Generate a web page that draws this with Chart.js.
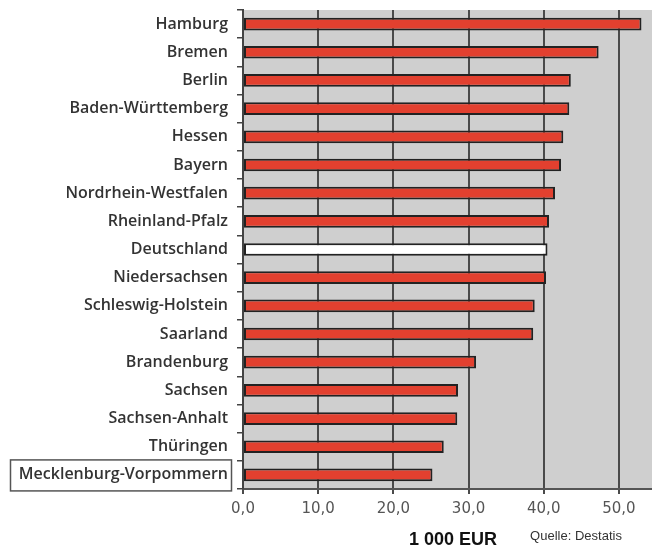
<!DOCTYPE html>
<html><head><meta charset="utf-8">
<script src="https://cdn.jsdelivr.net/npm/chart.js@4/dist/chart.umd.min.js"></script>
<style>html,body{margin:0;padding:0;background:#fff}#wrap{width:652px;height:549px;position:relative}</style>
</head><body><div id="wrap"><canvas id="c" width="652" height="549"></canvas></div>
<script>
const categories = ["Hamburg","Bremen","Berlin","Baden-Württemberg","Hessen","Bayern","Nordrhein-Westfalen","Rheinland-Pfalz","Deutschland","Niedersachsen","Schleswig-Holstein","Saarland","Brandenburg","Sachsen","Sachsen-Anhalt","Thüringen","Mecklenburg-Vorpommern"];
const values = [53.0,47.3,43.6,43.4,42.6,42.3,41.5,40.7,40.5,40.3,38.8,38.6,31.0,28.6,28.5,26.7,25.2];
const xTicks = [0,10,20,30,40,50];
const highlight = "Deutschland";
const boxed = "Mecklenburg-Vorpommern";
const axisTitle = "1 000 EUR";
const source = "Quelle: Destatis";

const bgPlugin = {
  id:'bg',
  beforeDraw(chart){
    const {ctx, chartArea:a} = chart;
    ctx.save(); ctx.fillStyle='#cfcfcf';
    ctx.fillRect(a.left,a.top,a.right-a.left,a.bottom-a.top);
    ctx.restore();
  },
  afterDraw(chart){
    const {ctx} = chart;
    const y = chart.scales.y;
    const i = categories.indexOf(boxed);
    const cy = y.getPixelForValue(i);
    ctx.save();
    ctx.strokeStyle='#555'; ctx.lineWidth=1.5;
    ctx.strokeRect(10.5, cy-15, 221, 31);
    ctx.fillStyle='#111';
    ctx.font='bold 18px "Liberation Sans", Arial, sans-serif';
    ctx.textAlign='center'; ctx.textBaseline='middle';
    ctx.fillText(axisTitle, 453, 540);
    ctx.font='13px "Liberation Sans", Arial, sans-serif';
    ctx.fillStyle='#333';
    ctx.fillText(source, 576, 536);
    ctx.restore();
  }
};

new Chart(document.getElementById('c'), {
  type:'bar',
  data:{labels:categories, datasets:[{
    data:values,
    backgroundColor: categories.map(c=>c===highlight?'#ffffff':'#e2402f'),
    borderColor:'#222', borderWidth:2, borderSkipped:false,
    barPercentage:0.45, categoryPercentage:1
  }]},
  options:{
    indexAxis:'y', responsive:false, animation:false,
    layout:{padding:{top:10,right:0,left:0,bottom:0}},
    plugins:{legend:{display:false}, tooltip:{enabled:false}},
    scales:{
      x:{
        min:0, max:54.4,
        afterBuildTicks(s){ s.ticks = xTicks.map(v=>({value:v})); },
        afterFit(s){ s.height = 60; s.paddingLeft = 0; s.paddingRight = 0; },
        grid:{color:'#4a4a4a', lineWidth:2, tickLength:5, drawTicks:true},
        border:{color:'#555', width:2},
        ticks:{color:'#555', padding:6, font:{family:'"DejaVu Sans", Verdana, sans-serif', size:15},
          callback:v=>v.toFixed(1).replace('.',',')}
      },
      y:{
        afterFit(s){ s.width = 243; s.paddingTop = 0; s.paddingBottom = 0; },
        grid:{offset:true, drawOnChartArea:false, tickLength:6, color:'#444', lineWidth:1.5},
        border:{color:'#444', width:2},
        ticks:{color:'#333', padding:9, font:{family:'"Open Sans", sans-serif', size:16, weight:'600'}}
      }
    }
  },
  plugins:[bgPlugin]
});
</script></body></html>
